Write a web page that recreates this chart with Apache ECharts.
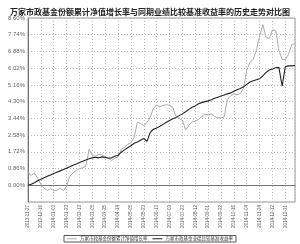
<!DOCTYPE html>
<html><head><meta charset="utf-8">
<script src="https://cdn.jsdelivr.net/npm/echarts@6/dist/echarts.min.js"></script>
<style>html,body{margin:0;padding:0;background:#fff}#c{width:300px;height:244px}</style>
</head><body><div id="c"></div>
<script>
const titleText = '万家市政基金份额累计净值增长率与同期业绩比较基准收益率的历史走势对比图';
const seriesNames = ['万家市政基金份额累计净值增长率', '万家市政基金业绩比较基准收益率'];
const tickLabels = ['2013-11-27','2013-12-16','2014-01-03','2014-01-23','2014-02-13','2014-03-05','2014-03-25','2014-04-14','2014-05-05','2014-05-23','2014-06-13','2014-07-03','2014-07-23','2014-08-12','2014-09-01','2014-09-22','2014-10-16','2014-11-04','2014-11-24','2014-12-12','2014-12-31'];
const labelStep = 4;
const fundValues = [0.67,0.51,0.64,0.36,0.05,-0.15,-0.26,-0.18,-0.28,-0.26,-0.15,-0.28,-0.05,0.46,0.64,0.77,0.85,0.90,0.98,1.85,1.54,1.49,1.59,1.57,1.44,1.39,1.28,1.39,1.46,1.85,1.95,2.11,2.18,2.47,3.24,3.18,3.06,3.24,3.49,3.96,4.11,4.03,4.11,4.14,4.11,4.01,3.54,3.44,3.34,2.85,3.08,3.26,3.29,3.39,3.52,3.67,3.60,3.67,3.54,3.47,3.47,3.52,4.42,4.60,4.70,4.65,4.73,4.98,5.91,6.32,6.47,6.94,7.65,8.27,7.60,7.55,7.99,7.96,6.94,6.47,6.47,6.73,7.24,7.27];
const benchValues = [0.00,0.05,0.13,0.23,0.31,0.39,0.46,0.53,0.60,0.67,0.74,0.81,0.88,0.95,1.03,1.09,1.17,1.23,1.30,1.36,1.41,1.44,1.41,1.46,1.44,1.39,1.41,1.49,1.54,1.70,1.82,1.93,2.03,2.16,2.23,2.32,2.41,2.26,2.72,2.88,2.95,3.03,3.13,3.24,3.33,3.42,3.49,3.58,3.67,3.78,3.90,4.01,4.08,4.19,4.25,4.30,4.34,4.40,4.47,4.53,4.59,4.64,4.70,4.75,4.83,4.91,4.97,5.06,5.19,5.31,5.37,5.43,5.48,5.62,5.80,5.93,5.98,6.04,6.06,5.09,6.11,6.14,6.14,6.16];
const yStep = 0.86;

const chart = echarts.init(document.getElementById('c'), null, {renderer:'canvas'});
const toPairs = arr => arr.map((v,i)=>[i,v]);
chart.setOption({
  animation:false,
  title:{text:titleText,left:'center',top:3,textStyle:{fontSize:8,fontWeight:'bold',color:'#222',fontFamily:'Noto Sans CJK SC'}},
  grid:{left:28,right:5,top:18,bottom:42,show:true,borderColor:'#999',borderWidth:1},
  legend:{bottom:2,left:'center',itemGap:5,itemWidth:10,itemHeight:1,padding:[1,3],borderColor:'#555',borderWidth:1,
    textStyle:{fontSize:4.5,color:'#333',fontFamily:'Noto Sans CJK SC',padding:[0,0,0,-2]},
    data:[{name:seriesNames[0],icon:'rect'},{name:seriesNames[1],icon:'rect'}]},
  xAxis:{type:'value',min:0,max:fundValues.length-1,interval:labelStep,
    axisLine:{show:true,lineStyle:{color:'#777'}},axisTick:{show:false},
    splitLine:{show:true,lineStyle:{color:'#bbb',type:[1,2],width:1}},
    axisLabel:{rotate:90,fontSize:4.5,color:'#555',margin:3,fontFamily:'Liberation Sans',
      formatter:v=>{const k=Math.round(v/labelStep);return (Math.abs(v-k*labelStep)<1e-6&&tickLabels[k])?tickLabels[k]:'';},
      showMaxLabel:false}},
  yAxis:{type:'value',min:-yStep,max:yStep*10,interval:yStep,
    axisLine:{show:true,lineStyle:{color:'#777'}},axisTick:{show:false},
    splitLine:{show:true,lineStyle:{color:'#bbb',type:[1,2],width:1}},
    axisLabel:{fontSize:6,color:'#666',margin:3,fontFamily:'Liberation Sans',
      formatter:v=>v< -1e-6?'':(Math.abs(v)<1e-6?0:v).toFixed(2)+'%'}},
  series:[
    {name:seriesNames[0],type:'line',data:toPairs(fundValues),symbol:'none',lineStyle:{color:'#aaa',width:1},itemStyle:{color:'#aaa'}},
    {name:seriesNames[1],type:'line',data:toPairs(benchValues),symbol:'none',lineStyle:{color:'#222',width:1.1},itemStyle:{color:'#222'}}
  ]
});
</script></body></html>
